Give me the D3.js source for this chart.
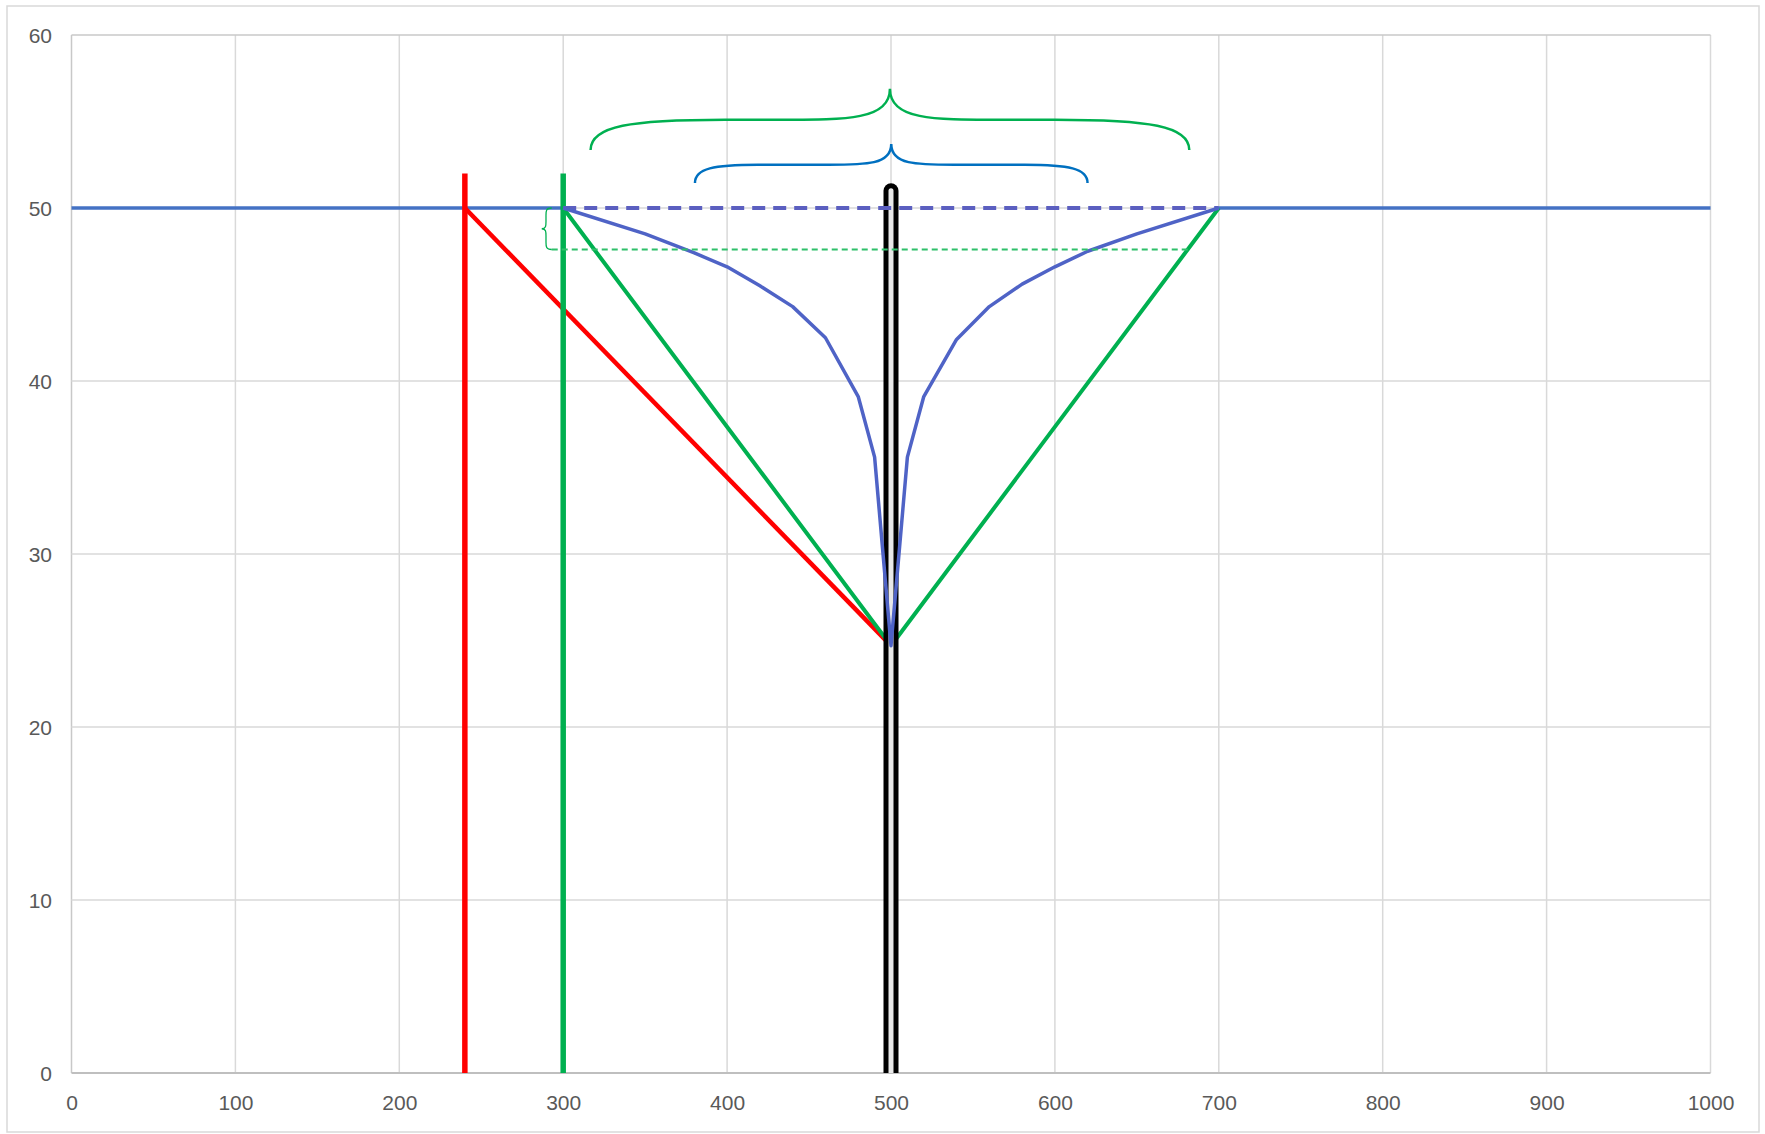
<html>
<head>
<meta http-equiv="content-type" content="text/html; charset=UTF8">
<title>Profile chart</title>
<style type="text/css">
body { margin: 0; padding: 0; overflow: hidden; background: #fff; font-family: "Liberation Sans", Arial, sans-serif; }
.tick text { fill: #595959; }
</style>
</head>
<body>
<div id="chart"></div>
<script type="text/javascript" src="https://cdnjs.cloudflare.com/ajax/libs/d3/7.8.5/d3.min.js"></script>
<script type="text/javascript">

// axis ticks
var xTicks = [0, 100, 200, 300, 400, 500, 600, 700, 800, 900, 1000];
var yTicks = [0, 10, 20, 30, 40, 50, 60];

// base level (solid left/right, dashed across the gap)
var baseLeftX = [0, 300], baseLeftY = [50, 50];
var baseRightX = [700, 1000], baseRightY = [50, 50];
var baseDashX = [300, 700], baseDashY = [50, 50];

// blue profile curve
var curveX = [300, 350, 380, 400, 420, 440, 460, 480, 490, 500, 510, 520, 540, 560, 580, 600, 620, 650, 700];
var curveY = [50, 48.5, 47.4, 46.6, 45.5, 44.3, 42.5, 39.1, 35.6, 24.7, 35.6, 39.1, 42.4, 44.3, 45.6, 46.6, 47.5, 48.5, 50];

// red lines
var redVertX = [240, 240], redVertY = [0, 52];
var redDiagX = [240, 500], redDiagY = [50, 24.7];

// green lines
var greenVertX = [300, 300], greenVertY = [0, 52];
var greenVX = [300, 500, 700], greenVY = [50, 24.7, 50];
var greenDashX = [293, 682], greenDashY = [47.6, 47.6];

// black centre post
var postX = [500, 500], postY = [0, 51];

// braces: [start, end, base, flat, tip]
var braceGreen = [316.7, 682, 53.35, 55.1, 56.9];
var braceBlue = [380.4, 619.9, 51.45, 52.5, 53.7];
var braceSmall = [50, 47.6, 293, 289.5, 286.9];

var W = 1765, H = 1134;
var svg = d3.select("#chart").append("svg").attr("width", W).attr("height", H);

var x = d3.scaleLinear().domain([0, 1000]).range([71.5, 1710.5]);
var y = d3.scaleLinear().domain([0, 60]).range([1073, 35]);

svg.append("rect")
    .attr("x", 7).attr("y", 6).attr("width", 1752).attr("height", 1126)
    .attr("fill", "#fff").attr("stroke", "#d9d9d9").attr("stroke-width", 1.5);

// gridlines
svg.append("g").selectAll("line").data(xTicks).enter().append("line")
    .attr("x1", function(d){ return x(d); }).attr("x2", function(d){ return x(d); })
    .attr("y1", y(0)).attr("y2", y(60))
    .attr("stroke", function(d){ return d === 0 ? "#c8c8c8" : "#d9d9d9"; })
    .attr("stroke-width", 1.5);
svg.append("g").selectAll("line").data(yTicks).enter().append("line")
    .attr("x1", x(0)).attr("x2", x(1000))
    .attr("y1", function(d){ return y(d); }).attr("y2", function(d){ return y(d); })
    .attr("stroke", function(d){ return d === 0 ? "#bfbfbf" : (d === 60 ? "#c8c8c8" : "#d9d9d9"); })
    .attr("stroke-width", function(d){ return d === 0 ? 2 : 1.5; });

// axes (labels only)
var xAxis = d3.axisBottom(x).tickValues(xTicks).tickSize(0).tickPadding(0).tickFormat(d3.format("d"));
var yAxis = d3.axisLeft(y).tickValues(yTicks).tickSize(0).tickPadding(0).tickFormat(d3.format("d"));
var gx = svg.append("g").attr("transform", "translate(0,1095)").call(xAxis);
var gy = svg.append("g").attr("transform", "translate(52,0)").call(yAxis);
[gx, gy].forEach(function(g){
    g.select(".domain").remove();
    g.selectAll("text").style("font-size", "21px").style("font-family", "'Liberation Sans', Arial, sans-serif");
});
gy.selectAll("text").attr("dy", "0.35em");

var plot = svg.append("g");

function pts(xs, ys) { return xs.map(function(v, i){ return [v, ys[i]]; }); }
var line = d3.line().x(function(d){ return x(d[0]); }).y(function(d){ return y(d[1]); });

function draw(xs, ys, color, width, dash, cap) {
    return plot.append("path")
        .attr("d", line(pts(xs, ys)))
        .attr("fill", "none")
        .attr("stroke", color)
        .attr("stroke-width", width)
        .attr("stroke-dasharray", dash || null)
        .attr("stroke-linecap", cap || "butt")
        .attr("stroke-linejoin", "round");
}

draw(baseLeftX, baseLeftY, "#4472c4", 3.5);
draw(baseRightX, baseRightY, "#4472c4", 3.5);

draw(redDiagX, redDiagY, "#ff0000", 4.5);
draw(redVertX, redVertY, "#ff0000", 5.5);
draw(greenVX, greenVY, "#00b050", 4);
draw(greenVertX, greenVertY, "#00b050", 5.5);

// black post with light inner stripe; flat at the axis, round at the top
var clip = svg.append("clipPath").attr("id", "plotclip");
clip.append("rect").attr("x", x(0)).attr("y", 0).attr("width", x(1000) - x(0)).attr("height", y(0));
draw(postX, postY, "#000", 15, null, "round").attr("clip-path", "url(#plotclip)");
draw(postX, postY, "#e8e8e8", 5, null, "round").attr("clip-path", "url(#plotclip)");

draw(baseDashX, baseDashY, "#5b5fc0", 4, "13,8");
draw(curveX, curveY, "#4f63c6", 3.5);
draw(greenDashX, greenDashY, "#2fbf6a", 2, "6,4");

// braces
function hBrace(b, ka, kb) {
    var xa = x(b[0]), xb = x(b[1]), ye = y(b[2]), yf = y(b[3]), yt = y(b[4]);
    var xm = (xa + xb) / 2, h = xm - xa, a = h * ka, c = h * kb;
    return "M" + xa + "," + ye +
        "C" + xa + "," + (yf + (ye - yf) * 0.2) + " " + (xa + a * 0.3) + "," + yf + " " + (xa + a) + "," + yf +
        "L" + (xm - c) + "," + yf +
        "C" + (xm - c * 0.4) + "," + yf + " " + xm + "," + yf + " " + xm + "," + yt +
        "C" + xm + "," + yf + " " + (xm + c * 0.4) + "," + yf + " " + (xm + c) + "," + yf +
        "L" + (xb - a) + "," + yf +
        "C" + (xb - a * 0.3) + "," + yf + " " + xb + "," + (yf + (ye - yf) * 0.2) + " " + xb + "," + ye;
}
function vBrace(b) {
    var ya = y(b[0]), yb = y(b[1]), xe = x(b[2]), xf = x(b[3]), xt = x(b[4]);
    var ym = (ya + yb) / 2, h = ym - ya, a = h * 0.35, c = h * 0.35;
    return "M" + xe + "," + ya +
        "C" + xf + "," + ya + " " + xf + "," + (ya + a * 0.4) + " " + xf + "," + (ya + a) +
        "L" + xf + "," + (ym - c) +
        "C" + xf + "," + (ym - c * 0.4) + " " + xf + "," + ym + " " + xt + "," + ym +
        "C" + xf + "," + ym + " " + xf + "," + (ym + c * 0.4) + " " + xf + "," + (ym + c) +
        "L" + xf + "," + (yb - a) +
        "C" + xf + "," + (yb - a * 0.4) + " " + xf + "," + yb + " " + xe + "," + yb;
}

plot.append("path").attr("d", hBrace(braceGreen, 0.45, 0.36))
    .attr("fill", "none").attr("stroke", "#00b050").attr("stroke-width", 2.5);
plot.append("path").attr("d", hBrace(braceBlue, 0.32, 0.32))
    .attr("fill", "none").attr("stroke", "#0070c0").attr("stroke-width", 2.5);
plot.append("path").attr("d", vBrace(braceSmall))
    .attr("fill", "none").attr("stroke", "#00b050").attr("stroke-width", 1.3);

</script>
</body>
</html>
